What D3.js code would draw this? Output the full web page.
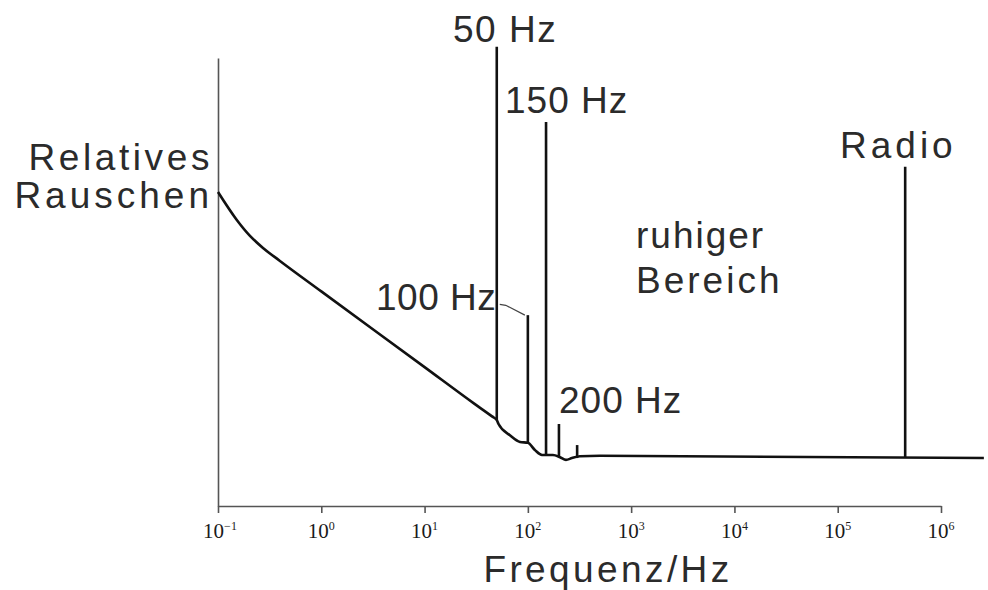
<!doctype html>
<html lang="de">

<head>
    <meta charset="utf-8">
    <script src="https://d3js.org/d3.v7.min.js"></script>
    <title>Relatives Rauschen</title>
    <style>
        body { margin: 0; background: #fff; }
        svg { display: block; }
        .lbl { font-family: "Liberation Sans", Arial, sans-serif; fill: #2b2b2b; }
        .tick-lbl { font-family: "Liberation Serif", "Times New Roman", serif; fill: #1a1a1a; }
    </style>
</head>

<body>
    <svg id="svg1"></svg>

    <script>
        // baseline noise curve (frequency in Hz, relative noise)
        let baseFreq = [0.1, 0.1527, 0.204, 0.2727, 0.398, 1, 10, 30, 45, 50, 52, 67, 84, 100, 117, 137, 150, 175, 205, 234, 267, 319, 500, 2.6e6];
        let baseVal  = [7.01, 6.38, 6.03, 5.76, 5.47, 4.79, 3.10, 2.29, 2.00, 1.92, 1.83, 1.58, 1.43, 1.41, 1.25, 1.14, 1.14, 1.14, 1.09, 1.03, 1.07, 1.11, 1.12, 1.07];

        // interference lines
        let peakFreq = [50, 100, 150, 200, 300, 450000];
        let peakBase = [1.92, 1.41, 1.14, 1.09, 1.07, 1.07];
        let peakTop  = [10.25, 4.26, 8.57, 1.83, 1.36, 7.57];

        let tickExp = [-1, 0, 1, 2, 3, 4, 5, 6];

        let width = 988, height = 590;
        let svg, xScale, yScale;

        function draw() {
            svg = d3.select("#svg1")
                .attr("width", width)
                .attr("height", height);

            xScale = d3.scaleLog().domain([0.1, 1e6]).range([218, 941]);
            yScale = d3.scaleLinear().domain([0, 10]).range([506, 58]);

            // axes
            let xAxis = svg.append("g")
                .attr("transform", `translate(0, ${yScale(0)})`)
                .call(d3.axisBottom(xScale)
                    .tickValues(tickExp.map(e => Math.pow(10, e)))
                    .tickSize(7)
                    .tickSizeOuter(0)
                    .tickFormat(""));
            xAxis.selectAll("path, line").attr("stroke", "#555").attr("stroke-width", 1.6);

            let yAxis = svg.append("g")
                .attr("transform", `translate(${xScale(0.1)}, 0)`)
                .call(d3.axisLeft(yScale).tickValues([]).tickSizeOuter(0));
            yAxis.selectAll("path").attr("stroke", "#555").attr("stroke-width", 1.6);

            // tick labels 10^n
            let tl = svg.append("g").selectAll("text")
                .data(tickExp)
                .join("text")
                .attr("class", "tick-lbl")
                .attr("x", d => xScale(Math.pow(10, d)) + (d < 0 ? 2 : 0))
                .attr("y", 538)
                .attr("text-anchor", "middle")
                .attr("font-size", 21);
            tl.append("tspan").text("10");
            tl.append("tspan")
                .attr("dy", -8)
                .attr("font-size", 12)
                .text(d => d < 0 ? "\u2212" + Math.abs(d) : d);

            // baseline curve
            let pts = baseFreq.map((f, i) => [f, baseVal[i]]);
            svg.append("path")
                .datum(pts)
                .attr("fill", "none")
                .attr("stroke", "#111")
                .attr("stroke-width", 2.6)
                .attr("stroke-linejoin", "round")
                .attr("d", d3.line()
                    .x(d => xScale(d[0]))
                    .y(d => yScale(d[1]))
                    .curve(d3.curveMonotoneX));

            // peaks
            svg.append("g").selectAll("line")
                .data(peakFreq)
                .join("line")
                .attr("x1", d => xScale(d))
                .attr("x2", d => xScale(d))
                .attr("y1", (d, i) => yScale(peakBase[i]))
                .attr("y2", (d, i) => yScale(peakTop[i]))
                .attr("stroke", "#111")
                .attr("stroke-width", 2.6);

            // leader from 100 Hz label to its peak
            svg.append("path")
                .attr("d", `M${xScale(50) + 3},${yScale(4.5)} L${xScale(50) + 9},${yScale(4.48)} L${xScale(100) - 3},${yScale(4.26)}`)
                .attr("fill", "none")
                .attr("stroke", "#444")
                .attr("stroke-width", 1.2);

            // labels
            let labels = [
                { t: "50 Hz", x: 453, y: 42, a: "start", s: 37, ls: 1.5 },
                { t: "150 Hz", x: 505, y: 113, a: "start", s: 37, ls: 1 },
                { t: "100 Hz", x: 376, y: 310, a: "start", s: 37, ls: 0.5 },
                { t: "200 Hz", x: 559, y: 413, a: "start", s: 37, ls: 1 },
                { t: "ruhiger", x: 636, y: 248, a: "start", s: 37, ls: 2 },
                { t: "Bereich", x: 636, y: 293, a: "start", s: 37, ls: 3 },
                { t: "Radio", x: 840, y: 158, a: "start", s: 37, ls: 4 },
                { t: "Relatives", x: 213, y: 170, a: "end", s: 37, ls: 3.6 },
                { t: "Rauschen", x: 213, y: 208, a: "end", s: 37, ls: 4 },
                { t: "Frequenz/Hz", x: 608, y: 582, a: "middle", s: 37, ls: 3.4 }
            ];
            svg.append("g").selectAll("text")
                .data(labels)
                .join("text")
                .attr("class", "lbl")
                .attr("x", d => d.x)
                .attr("y", d => d.y)
                .attr("text-anchor", d => d.a)
                .attr("font-size", d => d.s)
                .attr("letter-spacing", d => d.ls)
                .text(d => d.t);
        }

        draw();
    </script>

</body>

</html>
